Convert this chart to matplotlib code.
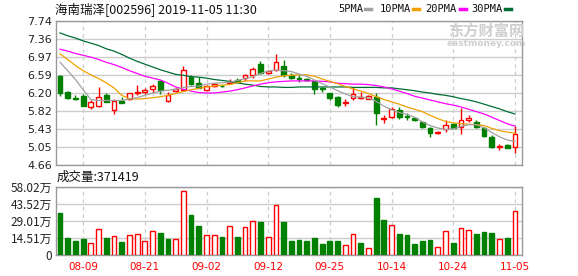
import matplotlib
matplotlib.use("Agg")
import matplotlib.pyplot as plt
from matplotlib.lines import Line2D
import numpy as np

plt.rcParams['font.family'] = ['Noto Sans CJK SC', 'DejaVu Sans']

title = '海南瑞泽[002596] 2019-11-05 11:30'
vol_title = '成交量:371419'
dates = ['08-09', '08-21', '09-02', '09-12', '09-25', '10-14', '10-24', '11-05']
date_idx = [3, 11, 19, 27, 35, 43, 51, 59]

opens = [6.57, 6.22, 6.10, 6.14, 5.91, 5.93, 6.15, 5.83, 6.02, 6.07,
         6.20, 6.22, 6.29, 6.45, 6.02, 6.24, 6.26, 6.54, 6.42, 6.26,
         6.34, 6.36, 6.42, 6.48, 6.53, 6.58, 6.82, 6.62, 6.70, 6.77,
         6.58, 6.53, 6.51, 6.45, 6.30, 6.19, 6.11, 5.99, 6.09, 6.10,
         6.08, 6.12, 5.65, 5.68, 5.84, 5.70, 5.66, 5.58, 5.45, 5.35,
         5.42, 5.54, 5.46, 5.61, 5.58, 5.45, 5.26, 5.05, 5.09, 5.05]
highs = [6.58, 6.25, 6.15, 6.17, 6.04, 6.33, 6.19, 6.07, 6.11, 6.20,
         6.37, 6.30, 6.39, 6.47, 6.22, 6.30, 6.77, 6.58, 6.54, 6.38,
         6.41, 6.38, 6.51, 6.53, 6.61, 6.76, 6.89, 6.69, 7.04, 6.90,
         6.63, 6.59, 6.53, 6.46, 6.33, 6.20, 6.13, 6.07, 6.32, 6.22,
         6.15, 6.19, 5.72, 5.89, 5.90, 5.78, 5.68, 5.59, 5.46, 5.39,
         5.61, 5.55, 5.88, 5.73, 5.62, 5.46, 5.29, 5.11, 5.11, 5.49]
lows = [6.14, 6.07, 6.05, 5.92, 5.86, 5.91, 6.00, 5.74, 5.98, 6.04,
        6.15, 6.18, 6.20, 6.18, 6.00, 6.22, 6.24, 6.38, 6.30, 6.24,
        6.33, 6.33, 6.40, 6.41, 6.45, 6.52, 6.61, 6.60, 6.68, 6.54,
        6.51, 6.43, 6.46, 6.18, 6.22, 6.05, 5.89, 5.93, 6.04, 6.07,
        6.07, 5.52, 5.56, 5.66, 5.65, 5.63, 5.60, 5.45, 5.26, 5.33,
        5.36, 5.44, 5.33, 5.58, 5.45, 5.26, 5.01, 4.98, 5.01, 4.92]
closes = [6.19, 6.09, 6.08, 5.93, 6.00, 6.11, 6.01, 6.02, 5.99, 6.19,
          6.22, 6.27, 6.34, 6.27, 6.15, 6.28, 6.69, 6.40, 6.31, 6.35,
          6.39, 6.35, 6.44, 6.43, 6.59, 6.72, 6.62, 6.67, 6.87, 6.58,
          6.52, 6.51, 6.47, 6.29, 6.28, 6.09, 5.94, 6.01, 6.17, 6.11,
          6.14, 5.78, 5.66, 5.86, 5.69, 5.68, 5.61, 5.46, 5.34, 5.37,
          5.51, 5.45, 5.61, 5.66, 5.47, 5.28, 5.04, 5.06, 5.02, 5.32]
# volume in units of 10k shares (万)
volumes = [35.7, 14.4, 11.9, 13.6, 9.9, 21.8, 14.4, 15.8, 11.0, 17.0,
           17.8, 11.9, 20.4, 18.7, 13.6, 13.3, 54.1, 34.0, 24.6, 17.0,
           17.0, 15.3, 24.6, 15.3, 23.5, 28.6, 28.0, 15.0, 42.2, 28.0,
           11.9, 12.7, 11.9, 14.4, 9.3, 11.9, 11.9, 8.2, 17.5, 10.2,
           5.7, 48.4, 29.7, 25.2, 17.8, 17.0, 9.3, 11.9, 12.7, 6.5,
           20.1, 10.2, 22.6, 20.9, 17.8, 19.5, 18.7, 13.3, 14.4, 37.14]

ma5 = [6.86, 6.68, 6.49, 6.27, 6.06, 6.04, 6.04, 6.04, 6.04, 6.07,
       6.10, 6.15, 6.20, 6.24, 6.26, 6.28, 6.32, 6.34, 6.35, 6.39,
       6.41, 6.42, 6.43, 6.47, 6.51, 6.55, 6.62, 6.67, 6.69, 6.68,
       6.66, 6.61, 6.56, 6.48, 6.40, 6.33, 6.25, 6.18, 6.12, 6.11,
       6.10, 6.02, 5.92, 5.84, 5.78, 5.74, 5.68, 5.58, 5.50, 5.45,
       5.41, 5.43, 5.48, 5.52, 5.52, 5.45, 5.35, 5.26, 5.19, 5.16]
ma10 = [7.04, 6.92, 6.79, 6.68, 6.59, 6.51, 6.42, 6.31, 6.15, 6.08,
        6.07, 6.08, 6.10, 6.12, 6.15, 6.19, 6.23, 6.27, 6.30, 6.33,
        6.35, 6.37, 6.38, 6.42, 6.46, 6.46, 6.46, 6.50, 6.54, 6.57,
        6.58, 6.59, 6.59, 6.56, 6.50, 6.45, 6.40, 6.34, 6.29, 6.24,
        6.19, 6.12, 6.06, 6.01, 5.96, 5.90, 5.85, 5.80, 5.72, 5.65,
        5.59, 5.56, 5.54, 5.53, 5.52, 5.50, 5.44, 5.39, 5.36, 5.34]
ma20 = [7.14, 7.10, 7.05, 7.01, 6.97, 6.92, 6.86, 6.81, 6.75, 6.68,
        6.62, 6.56, 6.52, 6.48, 6.41, 6.33, 6.28, 6.24, 6.21, 6.20,
        6.20, 6.22, 6.24, 6.27, 6.31, 6.35, 6.39, 6.42, 6.44, 6.45,
        6.46, 6.46, 6.46, 6.46, 6.45, 6.44, 6.41, 6.40, 6.39, 6.39,
        6.38, 6.36, 6.33, 6.29, 6.24, 6.19, 6.13, 6.09, 6.05, 6.01,
        5.97, 5.94, 5.90, 5.85, 5.80, 5.75, 5.68, 5.61, 5.54, 5.49]
ma30 = [7.49, 7.43, 7.38, 7.32, 7.27, 7.22, 7.15, 7.10, 7.03, 6.95,
        6.88, 6.82, 6.76, 6.70, 6.65, 6.60, 6.58, 6.55, 6.54, 6.52,
        6.49, 6.47, 6.45, 6.42, 6.39, 6.37, 6.34, 6.33, 6.33, 6.32,
        6.32, 6.33, 6.33, 6.33, 6.33, 6.33, 6.33, 6.33, 6.32, 6.32,
        6.32, 6.32, 6.31, 6.31, 6.29, 6.27, 6.25, 6.22, 6.20, 6.17,
        6.15, 6.12, 6.08, 6.05, 6.01, 5.96, 5.91, 5.86, 5.80, 5.75]

price_ticks = [4.66, 5.05, 5.43, 5.82, 6.20, 6.59, 6.97, 7.36, 7.74]
vol_ticks = [0, 14.51, 29.01, 43.52, 58.02]
vol_labels = ['0', '14.51万', '29.01万', '43.52万', '58.02万']

ma_names = ['5PMA', '10PMA', '20PMA', '30PMA']
ma_colors = ['#a0a0a0', '#f0a000', '#ff00ff', '#006e33']

RED = '#ff0000'
GREEN = '#008000'
GRID = '#cccccc'
W, H = 578, 276


def box(l, t, r, b):
    return [l / W, 1 - b / H, (r - l) / W, (b - t) / H]


fig = plt.figure(figsize=(W / 100, H / 100), dpi=100)
ax = fig.add_axes(box(56, 21.3, 522, 164.7))
axv = fig.add_axes(box(56, 186.7, 522, 255))

x = np.arange(len(closes))
o, h, l, c = (np.array(a) for a in (opens, highs, lows, closes))
up = c >= o
col = np.where(up, RED, GREEN)

# candles
ax.vlines(x, l, h, colors=col, linewidth=1, zorder=3)
ax.bar(x, np.maximum(np.abs(c - o), 0.004), bottom=np.minimum(o, c), width=0.62,
       color=np.where(up, 'white', GREEN), edgecolor=col, linewidth=1, zorder=4)

for vals, color in zip([ma30, ma20, ma10, ma5], ma_colors[::-1]):
    ax.plot(x, vals, color=color, linewidth=0.9, zorder=5)

# volume, coloured by close vs previous close
prev = np.r_[o[0], c[:-1]]
vup = c >= prev
axv.bar(x, volumes, width=0.62, color=np.where(vup, 'white', GREEN),
        edgecolor=np.where(vup, RED, GREEN), linewidth=1, zorder=3)

for a in (ax, axv):
    a.set_xlim(-0.52, 59.92)
    for i in date_idx:
        a.axvline(i, color=GRID, linestyle=(0, (3, 3)), linewidth=0.9, zorder=1)
    for s in a.spines.values():
        s.set_color('#999999')
        s.set_linewidth(1)
    a.tick_params(length=0, pad=3, labelsize=8, colors='#222222')
    a.yaxis.grid(True, color=GRID, linewidth=1)
    a.set_axisbelow(True)

ax.set_ylim(4.66, 7.74)
ax.set_yticks(price_ticks)
ax.set_yticklabels([f'{v:.2f}' for v in price_ticks], family='DejaVu Sans')
ax.set_xticks([])

axv.set_ylim(0, 58.02)
axv.set_yticks(vol_ticks)
axv.set_yticklabels(vol_labels, fontsize=8.5)
axv.set_xticks(date_idx)
axv.set_xticklabels(dates, color=RED, fontsize=7.5, family='DejaVu Sans')
axv.tick_params(axis='x', pad=5)

fig.text(55 / W, 1 - 9 / H, title, fontsize=9, va='center', color='#111111')
fig.text(57 / W, 1 - 177 / H, vol_title, fontsize=9, va='center', color='#111111')

# legend row
leg_x = [338, 380, 425, 471]
dash_x = [365, 413, 460, 505]
for name, color, tx, dx in zip(ma_names, ma_colors, leg_x, dash_x):
    fig.text(tx / W, 1 - 9 / H, name, fontsize=7.5, va='center', color='#111111',
             family='DejaVu Sans Mono')
    fig.add_artist(Line2D([dx / W, (dx + 6) / W], [1 - 9 / H, 1 - 9 / H],
                          color=color, linewidth=2.5, transform=fig.transFigure))

# watermark
fig.text(486 / W, 1 - 31 / H, '东方财富网', fontsize=11, weight='bold',
         color='#cfcfcf', ha='center', va='center')
fig.text(486 / W, 1 - 43 / H, 'eastmoney.com', fontsize=6.5, weight='bold',
         color='#cfcfcf', ha='center', va='center', family='DejaVu Sans')

fig.savefig('out.png', dpi=100)
